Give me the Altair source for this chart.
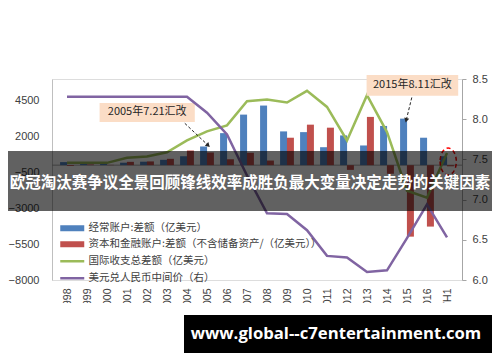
import altair as alt
import pandas as pd

# ---------------- data ----------------
years = ["1998", "1999", "2000", "2001", "2002", "2003", "2004", "2005", "2006", "2007",
         "2008", "2009", "2010", "2011", "2012", "2013", "2014", "2015", "2016", "2017H1"]
current_account = [210, 150, 170, 170, 240, 370, 620, 1300, 2230, 3520,
                   4150, 2350, 2300, 1250, 2070, 1370, 2730, 3240, 1910, 620]
capital_financial = [-60, 50, 20, 230, 260, 440, 1020, 880, 410, 860,
                     320, 1910, 2820, 2610, -330, 3360, -600, -4980, -4280, -80]
overall_balance = [160, 160, 160, 510, 600, 900, 1720, 2350, 2770, 4450,
                   4570, 4360, 5175, 4055, 1720, 4875, 2300, -1780, -2270, 850]
usd_cny = [8.28, 8.28, 8.28, 8.28, 8.28, 8.28, 8.28, 8.08, 7.81, 7.30,
           6.83, 6.82, 6.62, 6.30, 6.28, 6.10, 6.12, 6.52, 6.94, 6.53]

series_names = ["经常账户:差额（亿美元）",
                "资本和金融账户:差额（不含储备资产/（亿美元））",
                "国际收支总差额（亿美元）",
                "美元兑人民币中间价（右）"]
series_colors = ["#4F81BD", "#C0504D", "#9BBB59", "#8064A2"]

left_ticks = [-8000, -5500, -3000, -500, 2000, 4500]
right_ticks = [6.0, 6.5, 7.0, 7.5, 8.0, 8.5]

# annotations (data coordinates: x = year index, y = left-axis value)
ann_text = ["2005年7.21汇改", "2015年8.11汇改"]
ann_box_x0 = [1.63, 14.98]
ann_box_x1 = [6.39, 19.56]
ann_box_y0 = [3004, 4825]
ann_box_y1 = [4335, 6275]
ann_arrow_x0 = [5.89, 17.24]
ann_arrow_y0 = [2913, 4713]
ann_arrow_x1 = [7.06, 16.96]
ann_arrow_y1 = [1373, 3123]
ann_arrow_angle = [313, 14]
circle_x = [19.06]
circle_y = [252]

banner_text = "欧冠淘汰赛争议全景回顾锋线效率成胜负最大变量决定走势的关键因素"
watermark_text = "www.global--c7entertainment.com"

# ---------------- tables ----------------
n = len(years)
idx = list(range(n))
df_bars = pd.DataFrame({
    "idx": idx * 2,
    "k": [0] * n + [1] * n,
    "series": [series_names[0]] * n + [series_names[1]] * n,
    "value": current_account + capital_financial,
})
df_green = pd.DataFrame({"idx": idx, "value": overall_balance, "series": series_names[2]})
df_purple = pd.DataFrame({"idx": idx, "value": usd_cny, "series": series_names[3]})
df_ann = pd.DataFrame({
    "text": ann_text, "x0": ann_box_x0, "x1": ann_box_x1, "y0": ann_box_y0, "y1": ann_box_y1,
    "ax0": ann_arrow_x0, "ay0": ann_arrow_y0, "ax1": ann_arrow_x1, "ay1": ann_arrow_y1,
    "ang": ann_arrow_angle,
})
df_ann["xc"] = (df_ann["x0"] + df_ann["x1"]) / 2
df_ann["yc"] = (df_ann["y0"] + df_ann["y1"]) / 2
df_circle = pd.DataFrame({"idx": circle_x, "value": circle_y})
df_one = pd.DataFrame({"k": [0]})

W, H = 410, 201
FONT = "Liberation Sans"
CJK = "Noto Sans CJK SC"
LABEL = "#404040"

label_expr = "[" + ",".join("'%s'" % y for y in years) + "][datum.value]"
xscale = alt.Scale(domain=[-0.5, n - 0.5], nice=False, zero=False)
xaxis = alt.Axis(title=None, values=idx, labelExpr=label_expr, labelAngle=-90, domain=False,
                 ticks=False, grid=False, labelPadding=8, labelFont=FONT, labelFontSize=10.5,
                 labelColor=LABEL, labelFlush=False, labelOverlap=False)
yL = alt.Scale(domain=[-8000, 6000], nice=False, zero=False)
yLaxis = alt.Axis(title=None, values=left_ticks, domain=True, domainColor="#BFBFBF", ticks=False,
                  grid=False, labelPadding=13, labelFont=FONT, labelFontSize=11, labelColor=LABEL,
                  labelOverlap=False, format="d")
yR = alt.Scale(domain=[6.0, 8.5], nice=False, zero=False)
yRaxis = alt.Axis(title=None, orient="right", values=right_ticks, format=".1f", domain=True,
                  domainColor="#A6A6A6", ticks=True, tickSize=4, tickColor="#A6A6A6", grid=False,
                  labelPadding=6, labelFont=FONT, labelFontSize=11, labelColor=LABEL,
                  labelOverlap=False)

fill_scale = alt.Scale(domain=series_names[:2], range=series_colors[:2])
stroke_scale = alt.Scale(domain=series_names[2:], range=series_colors[2:])
fill_legend = alt.Legend(orient="none", legendX=15, legendY=144, title=None,
                         symbolType="M-4,-1H4V1H-4Z", symbolSize=36, symbolStrokeWidth=0,
                         labelOffset=11, rowPadding=5, padding=0, labelFont=CJK,
                         labelFontSize=10.5, labelColor=LABEL, labelLimit=600)
stroke_legend = alt.Legend(orient="none", legendX=15, legendY=177, title=None,
                           symbolType="M-4,0H4", symbolSize=36, symbolStrokeWidth=2.5,
                           labelOffset=11, rowPadding=6, padding=0, labelFont=CJK,
                           labelFontSize=10.5, labelColor=LABEL, labelLimit=600)

X = lambda f: alt.X(f, scale=xscale, axis=xaxis)
YL = lambda f: alt.Y(f, scale=yL, axis=yLaxis)

zero = alt.Chart(pd.DataFrame({"v": [0]})).mark_rule(color="#A6A6A6", strokeWidth=1).encode(y=YL("v:Q"))

bars = alt.Chart(df_bars).transform_calculate(
    xpos="datum.idx + (datum.k - 0.5) * 7 / 20.5"
).mark_bar(size=7).encode(
    x=X("xpos:Q"), y=YL("value:Q"),
    fill=alt.Fill("series:N", scale=fill_scale, legend=fill_legend),
)

green = alt.Chart(df_green).mark_line(strokeWidth=2.5).encode(
    x=X("idx:Q"), y=YL("value:Q"),
    stroke=alt.Stroke("series:N", scale=stroke_scale, legend=stroke_legend),
)

boxes = alt.Chart(df_ann).mark_rect(fill="#FBDDC6").encode(
    x=X("x0:Q"), x2="x1:Q", y=YL("y0:Q"), y2="y1:Q")
box_text = alt.Chart(df_ann).mark_text(font=CJK, fontSize=11, color="#262626").encode(
    x=X("xc:Q"), y=YL("yc:Q"), text="text:N")
arrows = alt.Chart(df_ann).mark_rule(color="#262626", strokeWidth=1, strokeDash=[3, 2]).encode(
    x=X("ax0:Q"), y=YL("ay0:Q"), x2="ax1:Q", y2="ay1:Q")
heads = alt.Chart(df_ann).mark_point(shape="triangle-down", filled=True, color="#262626",
                                     size=26, opacity=1).encode(
    x=X("ax1:Q"), y=YL("ay1:Q"), angle=alt.Angle("ang:Q", scale=None))
ellipse = alt.Chart(df_circle).mark_point(
    shape="M-0.6,0A0.6,1,0,1,0,0.6,0A0.6,1,0,1,0,-0.6,0Z", size=729, filled=False,
    stroke="#FF0000", strokeWidth=1.5, strokeDash=[4, 3], opacity=1
).encode(x=X("idx:Q"), y=YL("value:Q"))

purple = alt.Chart(df_purple).mark_line(strokeWidth=2.5).encode(
    x=X("idx:Q"), y=alt.Y("value:Q", scale=yR, axis=yRaxis),
    stroke=alt.Stroke("series:N", scale=stroke_scale, legend=stroke_legend),
)

left = alt.layer(zero, bars, green, boxes, box_text, arrows, heads, ellipse)

# overlays (page decorations)
banner = alt.Chart(df_one).mark_rect(color="black", opacity=0.62).encode(
    x=alt.value(-44), x2=alt.value(440), y=alt.value(72), y2=alt.value(132))
banner_t = alt.Chart(df_one).mark_text(font=CJK, fontSize=15.5, fontWeight="bold", color="white",
                                       align="center", baseline="middle").encode(
    x=alt.value(198), y=alt.value(103.5), text=alt.value(banner_text))
clip = alt.Chart(df_one).mark_rect(color="white").encode(
    x=alt.value(-44), x2=alt.value(440), y=alt.value(224), y2=alt.value(276))
wm = alt.Chart(df_one).mark_rect(color="black").encode(
    x=alt.value(132), x2=alt.value(441), y=alt.value(236), y2=alt.value(274))
wm_t = alt.Chart(df_one).mark_text(font="Open Sans", fontSize=16.7, fontWeight="bold", color="white",
                                   align="center", baseline="middle").encode(
    x=alt.value(284), y=alt.value(255), text=alt.value(watermark_text))

chart = alt.layer(left, purple, banner, banner_t, clip, wm, wm_t).resolve_scale(
    y="independent"
).properties(
    width=W, height=H, autosize="none",
    padding={"left": 44, "top": 71, "right": 30, "bottom": 82},
).configure_view(strokeWidth=0).configure(background="white")

chart.save("out.html", embed_options={"renderer": "svg", "actions": False})
